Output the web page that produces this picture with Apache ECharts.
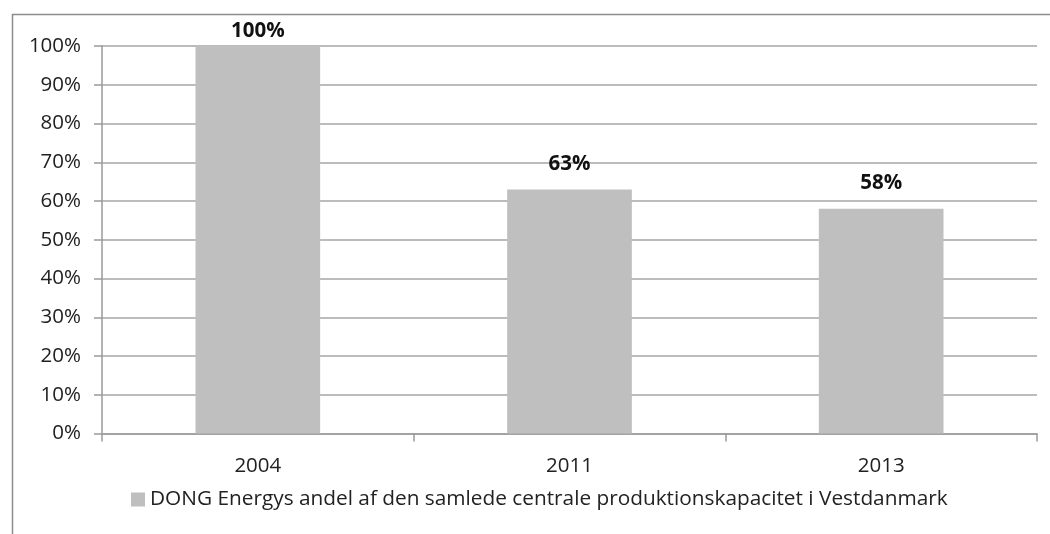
<!DOCTYPE html>
<html>
<head>
<meta charset="utf-8">
<script src="https://cdn.jsdelivr.net/npm/echarts@6/dist/echarts.min.js"></script>
<style>html,body{margin:0;padding:0;background:#fff}#c{width:1050px;height:534px}</style>
</head>
<body>
<div id="c"></div>
<script>
const categories = ['2004', '2011', '2013'];
const values = [1.00, 0.63, 0.58];
const seriesName = 'DONG Energys andel af den samlede centrale produktionskapacitet i Vestdanmark';

const FONT = '"Open Sans", Lato, sans-serif';
const chart = echarts.init(document.getElementById('c'), null, {renderer: 'canvas'});
const pct = v => Math.round(v * 100) + '%';
chart.setOption({
  animation: false,
  backgroundColor: '#fff',
  graphic: [{
    type: 'rect', left: 10, top: 12, shape: {width: 1100, height: 600},
    style: {fill: 'none', stroke: '#8c8c8c', lineWidth: 1.5}, silent: true
  }],
  grid: {left: 102, right: 13, top: 46, bottom: 100.5},
  legend: {
    data: [seriesName], bottom: 19, left: 126, itemWidth: 14, itemHeight: 14, itemGap: 8,
    icon: 'rect',
    textStyle: {fontFamily: FONT, fontSize: 20.8, color: '#222'}
  },
  xAxis: {
    type: 'category', data: categories,
    axisLine: {lineStyle: {color: '#9a9a9a', width: 1.5}},
    axisTick: {show: true, alignWithLabel: false, length: 8, lineStyle: {color: '#9a9a9a', width: 1.5}},
    axisLabel: {fontFamily: FONT, fontSize: 20.5, color: '#222', margin: 22}
  },
  yAxis: {
    type: 'value', min: 0, max: 1, interval: 0.1,
    axisLine: {show: true, lineStyle: {color: '#9a9a9a', width: 1.5}},
    axisTick: {show: true, length: 8, lineStyle: {color: '#9a9a9a', width: 1.5}},
    splitLine: {lineStyle: {color: '#a6a6a6', width: 1.5}},
    axisLabel: {fontFamily: FONT, fontSize: 20.5, color: '#222', margin: 21, formatter: v => pct(v)}
  },
  series: [{
    name: seriesName, type: 'bar', barWidth: '40%',
    itemStyle: {color: '#bfbfbf'},
    label: {show: true, position: 'top', distance: 15, fontFamily: FONT, fontSize: 20.5, fontWeight: 'bold', color: '#111', formatter: p => pct(p.value)},
    data: values.map((v, i) => i === 0 ? {value: v, label: {distance: 4}} : v)
  }]
});
</script>
</body>
</html>
